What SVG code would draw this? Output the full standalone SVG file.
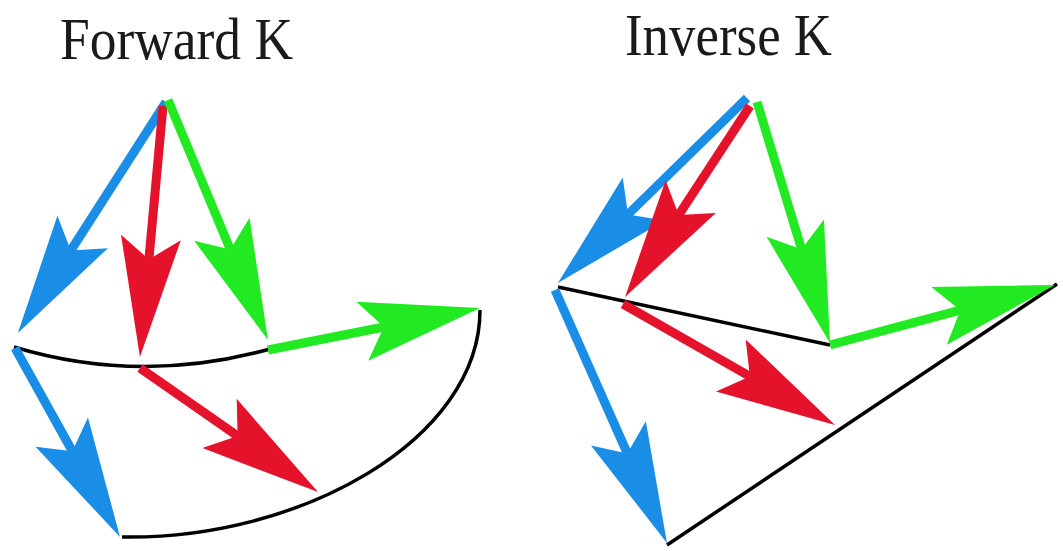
<svg xmlns="http://www.w3.org/2000/svg" width="1063" height="551" viewBox="0 0 1063 551">
<style>
.title{font-family:"Liberation Serif","Times New Roman",serif;font-size:60px;fill:#1a1a1a}
.b{stroke:#1a8de6;fill:none;stroke-width:9}
.r{stroke:#e5122c;fill:none;stroke-width:9}
.g{stroke:#22ea22;fill:none;stroke-width:9}
.k{stroke:#000;fill:none;stroke-width:3.5}
</style>
<defs>
<marker id="hb" markerUnits="userSpaceOnUse" viewBox="0 -31 121 62" markerWidth="121" markerHeight="62" refX="22" refY="0" orient="auto"><path d="M120,0 L0,-30 L22,0 L0,30 Z" fill="#1a8de6"/></marker>
<marker id="hr" markerUnits="userSpaceOnUse" viewBox="0 -31 121 62" markerWidth="121" markerHeight="62" refX="22" refY="0" orient="auto"><path d="M120,0 L0,-30 L22,0 L0,30 Z" fill="#e5122c"/></marker>
<marker id="hg" markerUnits="userSpaceOnUse" viewBox="0 -31 121 62" markerWidth="121" markerHeight="62" refX="22" refY="0" orient="auto"><path d="M120,0 L0,-30 L22,0 L0,30 Z" fill="#22ea22"/></marker>
</defs>
<rect width="1063" height="551" fill="#fff"/>
<g id="title-forward"><text class="title" x="60" y="59" textLength="233" lengthAdjust="spacingAndGlyphs">Forward K</text></g>
<g id="title-inverse"><text class="title" x="625" y="55" textLength="207" lengthAdjust="spacingAndGlyphs">Inverse K</text></g>
<g id="forward-links">
<path class="k" d="M14,347 Q140,385 270,349"/>
<path class="k" d="M122,537 C300,540 480,440 480,310"/>
</g>
<g id="forward-arrows">
<path class="b" d="M166,102 L70.8,250.5" marker-end="url(#hb)"/>
<path class="r" d="M163,106 L148.9,259.4" marker-end="url(#hr)"/>
<path class="g" d="M168,100 L230.3,249.5" marker-end="url(#hg)"/>
<path class="g" d="M268,350 L383.9,327" marker-end="url(#hg)"/>
<path class="r" d="M140,368 L237.6,436" marker-end="url(#hr)"/>
<path class="b" d="M15,348 L72.4,451.3" marker-end="url(#hb)"/>
</g>
<g id="inverse-links">
<path class="k" d="M558,287 L830,345"/>
<path class="k" d="M667,545 L1057,284"/>
</g>
<g id="inverse-arrows">
<path class="b" d="M747,98 L628,214.4" marker-end="url(#hb)"/>
<path class="r" d="M750,106 L678.7,215" marker-end="url(#hr)"/>
<path class="g" d="M757,102 L801.6,249.2" marker-end="url(#hg)"/>
<path class="b" d="M555,290 L627.3,453.4" marker-end="url(#hb)"/>
<path class="r" d="M623,304 L749.9,376.4" marker-end="url(#hr)"/>
<path class="g" d="M830,345 L960.3,310.2" marker-end="url(#hg)"/>
</g>
</svg>
